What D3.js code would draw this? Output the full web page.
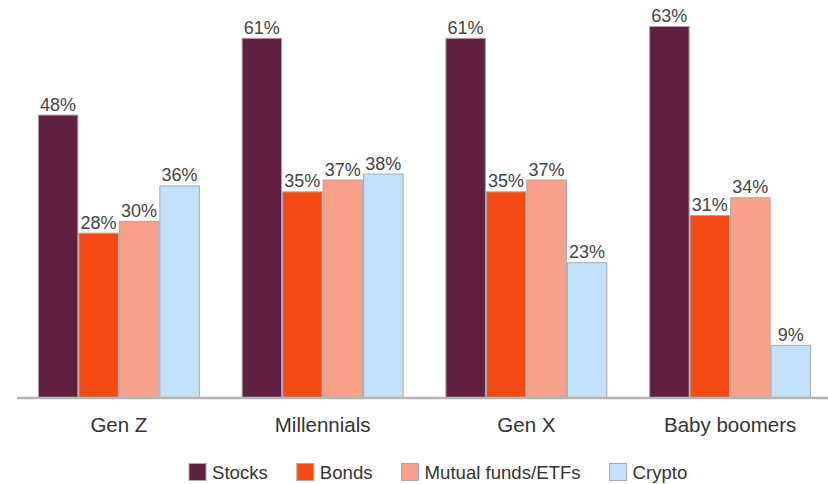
<!DOCTYPE html>
<html>
<head>
<meta charset="utf-8">
<script src="https://cdn.jsdelivr.net/npm/d3@7"></script>
<style>
  html, body { margin: 0; padding: 0; background: #fff; }
  svg { display: block; font-family: "Liberation Sans", Arial, sans-serif; }
</style>
</head>
<body>
<svg id="chart" width="828" height="484"></svg>
<script>
const categories = ["Gen Z", "Millennials", "Gen X", "Baby boomers"];
const seriesNames = ["Stocks", "Bonds", "Mutual funds/ETFs", "Crypto"];
const stocks = [48, 61, 61, 63];
const bonds = [28, 35, 35, 31];
const mutualFunds = [30, 37, 37, 34];
const crypto = [36, 38, 23, 9];
const colors = ["#611f41", "#f44b14", "#f7a08a", "#c4e1fb"];

const seriesValues = [stocks, bonds, mutualFunds, crypto];
const svg = d3.select("#chart");

const baseY = 398;
const x0 = d3.scaleBand().domain(categories).range([17, 832])
  .paddingInner(0.205).paddingOuter(0.1025);
const x1 = d3.scaleBand().domain(seriesNames).range([0, x0.bandwidth()]).padding(0);
const y = d3.scaleLinear().domain([0, 60]).range([baseY, baseY - 354.3]);

const rows = categories.map((c, i) => ({
  cat: c,
  vals: seriesNames.map((s, j) => ({ s, v: seriesValues[j][i], color: colors[j] }))
}));

const groups = svg.append("g").selectAll("g").data(rows).join("g")
  .attr("transform", d => `translate(${x0(d.cat)},0)`);

groups.selectAll("rect").data(d => d.vals).join("rect")
  .attr("x", d => x1(d.s) + 0.5)
  .attr("y", d => y(d.v) + 0.5)
  .attr("width", x1.bandwidth() - 1)
  .attr("height", d => baseY - y(d.v) - 0.5)
  .attr("fill", d => d.color)
  .attr("stroke", "#a8a8a8")
  .attr("stroke-width", 1);

groups.selectAll("text").data(d => d.vals).join("text")
  .attr("x", d => x1(d.s) + x1.bandwidth() / 2)
  .attr("y", d => y(d.v) - 4)
  .attr("text-anchor", "middle")
  .attr("font-size", 18)
  .attr("fill", "#444")
  .text(d => d.v + "%");

// baseline axis
const xAxis = d3.axisBottom(x0).tickSize(0).tickPadding(0);
const axisG = svg.append("g").attr("transform", `translate(0,${baseY})`).call(xAxis);
axisG.select(".domain").attr("stroke", "#b5b5b5").attr("stroke-width", 2.5)
  .attr("d", "M17,0H832");
axisG.selectAll(".tick text")
  .attr("dy", null)
  .attr("y", 34)
  .attr("font-size", 20.5)
  .attr("font-family", "\"Liberation Sans\", Arial, sans-serif")
  .attr("fill", "#333");

// legend
const legend = svg.append("g").attr("class", "legend");
let lx = 189;
seriesNames.forEach((name, i) => {
  const g = legend.append("g");
  g.append("rect").attr("x", lx).attr("y", 463.5).attr("width", 17).attr("height", 17)
    .attr("fill", colors[i]).attr("stroke", "#a8a8a8").attr("stroke-width", 1);
  const t = g.append("text").attr("x", lx + 23).attr("y", 479)
    .attr("font-size", 18.6).attr("fill", "#333").text(name);
  lx = lx + 23 + t.node().getComputedTextLength() + 29;
});
</script>
</body>
</html>
